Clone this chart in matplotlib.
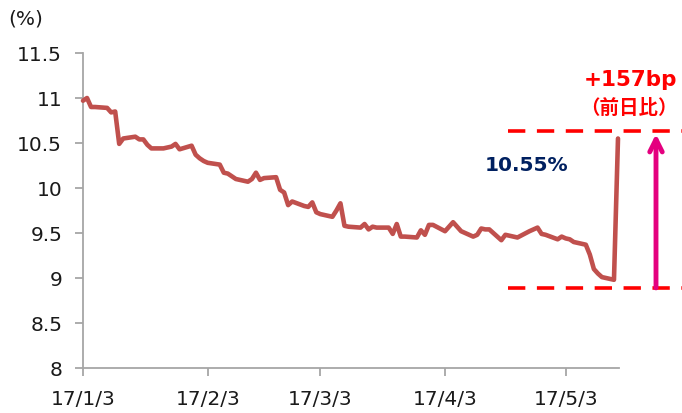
import matplotlib
matplotlib.use("Agg")
import matplotlib.pyplot as plt
import matplotlib.transforms as mtransforms
import pandas as pd

# ---- data ----
dates = [
    "2017-01-03", "2017-01-04", "2017-01-05", "2017-01-06", "2017-01-09", "2017-01-10",
    "2017-01-11", "2017-01-12", "2017-01-13", "2017-01-16", "2017-01-17", "2017-01-18",
    "2017-01-19", "2017-01-20", "2017-01-23", "2017-01-24", "2017-01-25", "2017-01-26",
    "2017-01-27", "2017-01-30", "2017-01-31",
    "2017-02-01", "2017-02-02", "2017-02-03", "2017-02-06", "2017-02-07", "2017-02-08",
    "2017-02-09", "2017-02-10", "2017-02-13", "2017-02-14", "2017-02-15", "2017-02-16",
    "2017-02-17", "2017-02-20", "2017-02-21", "2017-02-22", "2017-02-23", "2017-02-24",
    "2017-02-27", "2017-02-28",
    "2017-03-01", "2017-03-02", "2017-03-03", "2017-03-06", "2017-03-07", "2017-03-08",
    "2017-03-09", "2017-03-10", "2017-03-13", "2017-03-14", "2017-03-15", "2017-03-16",
    "2017-03-17", "2017-03-20", "2017-03-21", "2017-03-22", "2017-03-23", "2017-03-24",
    "2017-03-27", "2017-03-28", "2017-03-29", "2017-03-30", "2017-03-31",
    "2017-04-03", "2017-04-04", "2017-04-05", "2017-04-06", "2017-04-07", "2017-04-10",
    "2017-04-11", "2017-04-12", "2017-04-13", "2017-04-14", "2017-04-17", "2017-04-18",
    "2017-04-19", "2017-04-20", "2017-04-21", "2017-04-24", "2017-04-25", "2017-04-26",
    "2017-04-27", "2017-04-28",
    "2017-05-01", "2017-05-02", "2017-05-03", "2017-05-04", "2017-05-05", "2017-05-08",
    "2017-05-09", "2017-05-10", "2017-05-11", "2017-05-12", "2017-05-15", "2017-05-16",
]
yields = [
    10.97, 11.00, 10.90, 10.90, 10.89, 10.84,
    10.85, 10.49, 10.55, 10.57, 10.54, 10.54,
    10.48, 10.44, 10.44, 10.45, 10.46, 10.49,
    10.43, 10.47, 10.37,
    10.33, 10.30, 10.28, 10.26, 10.17, 10.16,
    10.13, 10.10, 10.07, 10.10, 10.17, 10.09,
    10.11, 10.12, 9.98, 9.95, 9.81, 9.85,
    9.80, 9.79,
    9.84, 9.73, 9.71, 9.68, 9.75, 9.83,
    9.58, 9.57, 9.56, 9.60, 9.54, 9.57,
    9.56, 9.56, 9.49, 9.60, 9.46, 9.46,
    9.45, 9.53, 9.48, 9.59, 9.59,
    9.52, 9.57, 9.62, 9.57, 9.52, 9.46,
    9.48, 9.55, 9.54, 9.54, 9.42, 9.48,
    9.47, 9.46, 9.45, 9.52, 9.54, 9.56,
    9.49, 9.48,
    9.43, 9.46, 9.44, 9.43, 9.40, 9.37,
    9.26, 9.10, 9.05, 9.01, 8.98, 10.55,
]
tick_dates = ["2017-01-03", "2017-02-03", "2017-03-03", "2017-04-03", "2017-05-03"]
tick_labels = ["17/1/3", "17/2/3", "17/3/3", "17/4/3", "17/5/3"]
y_ticks = [8, 8.5, 9, 9.5, 10, 10.5, 11, 11.5]
y_tick_labels = ["8", "8.5", "9", "9.5", "10", "10.5", "11", "11.5"]

low_level = 8.89
high_level = 10.63
last_label = "10.55%"
change_label = "+157bp"
change_note = "（前日比）"

# ---- figure ----
W, H = 682, 414
fig = plt.figure(figsize=(W / 100, H / 100), dpi=100)
ax = fig.add_axes([83 / W, 1 - 369 / H, (619 - 83) / W, (369 - 54) / H])

x = pd.to_datetime(dates)
ax.plot(x, yields, color="#C0504D", linewidth=3.3, solid_joinstyle="round",
        solid_capstyle="round", zorder=3, clip_on=False)

ax.set_xlim(pd.Timestamp(dates[0]), pd.Timestamp(dates[-1]) + pd.Timedelta(hours=6))
ax.set_ylim(8, 11.5)
ax.set_yticks(y_ticks)
ax.set_yticklabels(y_tick_labels)
ax.set_xticks(pd.to_datetime(tick_dates))
ax.set_xticklabels(tick_labels)

for s in ["top", "right"]:
    ax.spines[s].set_visible(False)
for s in ["left", "bottom"]:
    ax.spines[s].set_color("#A6A6A6")
    ax.spines[s].set_linewidth(1.3)
ax.tick_params(axis="both", colors="#A6A6A6", width=1.3, length=6, direction="out",
               labelcolor="#1a1a1a", labelsize=14.5)
ax.tick_params(axis="y", pad=9)
ax.tick_params(axis="x", pad=9)

fig.text(8 / W, 1 - 19 / H, "(%)", fontsize=14.5, color="#1a1a1a", va="center", ha="left")

# dashed reference lines (x in axes fraction, y in data)
trans = mtransforms.blended_transform_factory(ax.transAxes, ax.transData)
x0 = (508 - 83) / 536
x1 = (690 - 83) / 536
for lv in (low_level, high_level):
    ax.plot([x0, x1], [lv, lv], transform=trans, color="#FF0000", linewidth=2.6,
            linestyle=(0, (4.8, 3.2)), clip_on=False, zorder=2)

# magenta arrow
xa = (656 - 83) / 536
ax.annotate("", xy=(xa, 10.60), xytext=(xa, low_level), xycoords=trans, textcoords=trans,
            arrowprops=dict(arrowstyle="->,head_length=0.9,head_width=0.45", color="#E4007F",
                            lw=3.5, shrinkA=0, shrinkB=0), annotation_clip=False)

# annotations
fig.text(485 / W, 1 - 166 / H, last_label, fontsize=14.5, fontweight="bold",
         color="#002060", va="center", ha="left")
fig.text(584 / W, 1 - 80 / H, change_label, fontsize=15.5, fontweight="bold",
         color="#FF0000", va="center", ha="left")
fig.text(580 / W, 1 - 108 / H, change_note, fontsize=14, fontweight="bold",
         color="#FF0000", va="center", ha="left",
         family=["Noto Sans CJK JP", "DejaVu Sans"])

fig.savefig("out.png", dpi=100)
